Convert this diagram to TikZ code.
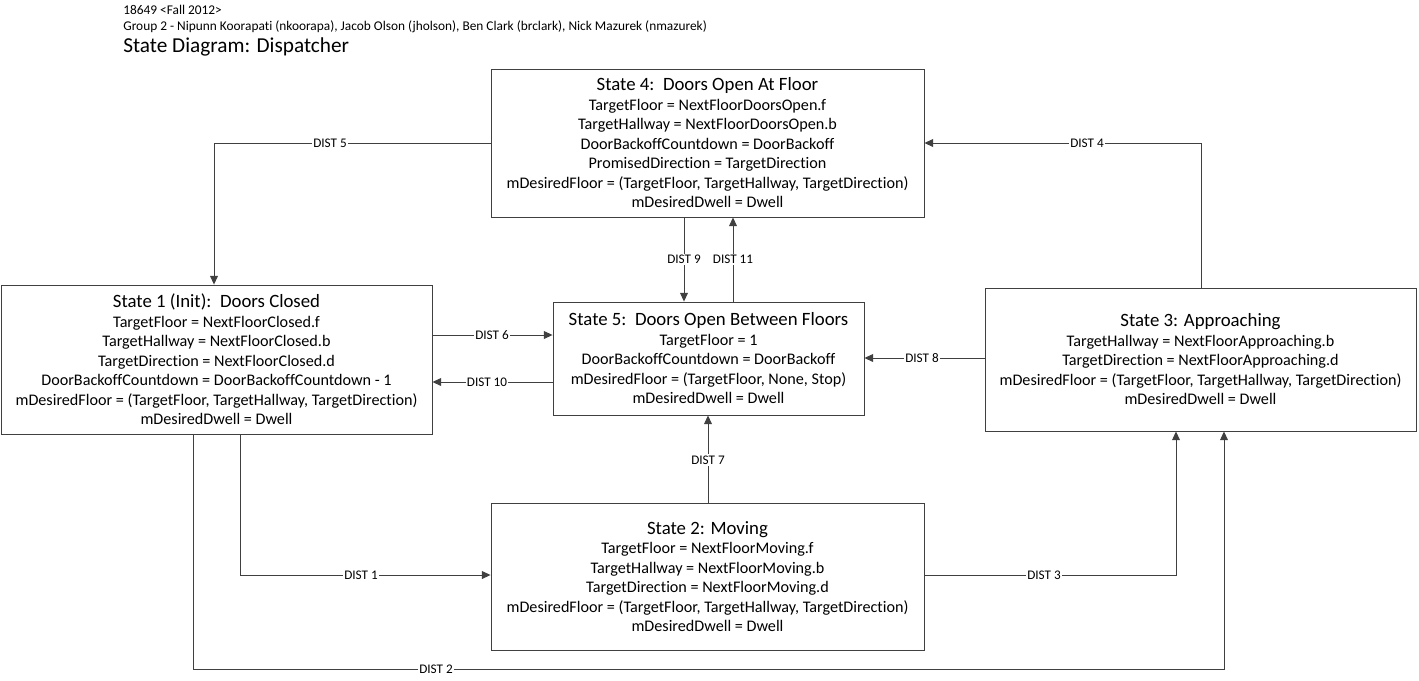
\documentclass[tikz,border=0pt]{standalone}
\usepackage{fontspec}
\setmainfont{Carlito}[Ligatures=NoCommon]
\usepackage{tikz}
\usetikzlibrary{arrows.meta}
\usetikzlibrary{positioning}

\tikzset{
  statebox/.style={draw=black!75, line width=0.5pt, fill=white, align=center,
    inner sep=0pt, font=\fontsize{9.2}{11.1}\selectfont},
  flow/.style={draw=black!75, line width=0.5pt, -{Triangle[length=5pt,width=4.5pt]}},
  distlabel/.style={fill=white, inner sep=0.8pt, font=\fontsize{7.5}{8}\selectfont},
  hdr/.style={anchor=west, inner sep=0pt},
}
\newcommand{\boxtitle}[1]{{\fontsize{10.7}{11}\selectfont #1}}

\begin{document}
\begin{tikzpicture}[x=0.02cm, y=-0.02cm]
  \useasboundingbox (0,0) rectangle (1419,680);

  % header
  \node[hdr, font=\fontsize{7.6}{9}\selectfont] (yr) at (123,10) {18649 <Fall 2012>};
  \node[hdr, font=\fontsize{7.6}{9}\selectfont] (grp) at (123,27)
    {Group 2 - Nipunn Koorapati (nkoorapa), Jacob Olson (jholson), Ben Clark (brclark), Nick Mazurek (nmazurek)};
  \node[hdr, font=\fontsize{12.1}{14}\selectfont] (ttl) at (123,47) {State Diagram: Dispatcher};

  % states
  \node[statebox, minimum width=433*0.02cm, minimum height=148*0.02cm] (s4) at (707.5,143) {%
    \boxtitle{State 4:\ \ Doors Open At Floor}\\
    TargetFloor = NextFloorDoorsOpen.f\\
    TargetHallway = NextFloorDoorsOpen.b\\
    DoorBackoffCountdown = DoorBackoff\\
    PromisedDirection = TargetDirection\\
    mDesiredFloor = (TargetFloor, TargetHallway, TargetDirection)\\
    mDesiredDwell = Dwell};

  \node[statebox, minimum width=431*0.02cm, minimum height=149*0.02cm] (s1) at (216.5,359.5) {%
    \boxtitle{State 1 (Init):\ \ Doors Closed}\\
    TargetFloor = NextFloorClosed.f\\
    TargetHallway = NextFloorClosed.b\\
    TargetDirection = NextFloorClosed.d\\
    DoorBackoffCountdown = DoorBackoffCountdown - 1\\
    mDesiredFloor = (TargetFloor, TargetHallway, TargetDirection)\\
    mDesiredDwell = Dwell};

  \node[statebox, minimum width=311*0.02cm, minimum height=113*0.02cm] (s5) at (708.5,358.5) {%
    \boxtitle{State 5:\ \ Doors Open Between Floors}\\
    TargetFloor = 1\\
    DoorBackoffCountdown = DoorBackoff\\
    mDesiredFloor = (TargetFloor, None, Stop)\\
    mDesiredDwell = Dwell};

  \node[statebox, minimum width=431*0.02cm, minimum height=143*0.02cm] (s3) at (1200.5,359.5) {%
    \boxtitle{State 3: Approaching}\\
    TargetHallway = NextFloorApproaching.b\\
    TargetDirection = NextFloorApproaching.d\\
    mDesiredFloor = (TargetFloor, TargetHallway, TargetDirection)\\
    mDesiredDwell = Dwell};

  \node[statebox, minimum width=433*0.02cm, minimum height=147*0.02cm] (s2) at (707.5,576.5) {%
    \boxtitle{State 2: Moving}\\
    TargetFloor = NextFloorMoving.f\\
    TargetHallway = NextFloorMoving.b\\
    TargetDirection = NextFloorMoving.d\\
    mDesiredFloor = (TargetFloor, TargetHallway, TargetDirection)\\
    mDesiredDwell = Dwell};

  % transitions
  \draw[flow] (s4.west |- 0,143) -- (214,143) -- (s1.north -| 214,0);
  \node[distlabel] (d5) at (330,143) {DIST 5};

  \draw[flow] (s3.north -| 1201,0) -- (1201,143) -- (s4.east |- 0,143);
  \node[distlabel] (d4) at (1087,143) {DIST 4};

  \draw[flow] (s4.south -| 684,0) -- (s5.north -| 684,0)
    node[distlabel, midway] (d9) {DIST 9};
  \draw[flow] (s5.north -| 733,0) -- (s4.south -| 733,0)
    node[distlabel, midway] (d11) {DIST 11};

  \draw[flow] (s1.east |- 0,335) -- (s5.west |- 0,335);
  \node[distlabel] (d6) at (492,335) {DIST 6};
  \draw[flow] (s5.west |- 0,382) -- (s1.east |- 0,382);
  \node[distlabel] (d10) at (487,382) {DIST 10};

  \draw[flow] (s3.west |- 0,358) -- (s5.east |- 0,358);
  \node[distlabel] (d8) at (922,358) {DIST 8};

  \draw[flow] (s2.north -| 708,0) -- (s5.south -| 708,0);
  \node[distlabel] (d7) at (708,460) {DIST 7};

  \draw[flow] (s1.south -| 240,0) -- (240,575) -- (s2.west |- 0,575);
  \node[distlabel] (d1) at (361,575) {DIST 1};

  \draw[flow] (s2.east |- 0,575) -- (1176,575) -- (s3.south -| 1176,0);
  \node[distlabel] (d3) at (1044,575) {DIST 3};

  \draw[flow] (s1.south -| 193,0) -- (193,669) -- (1224,669) -- (s3.south -| 1224,0);
  \node[distlabel] (d2) at (436,669) {DIST 2};
\end{tikzpicture}
\end{document}
